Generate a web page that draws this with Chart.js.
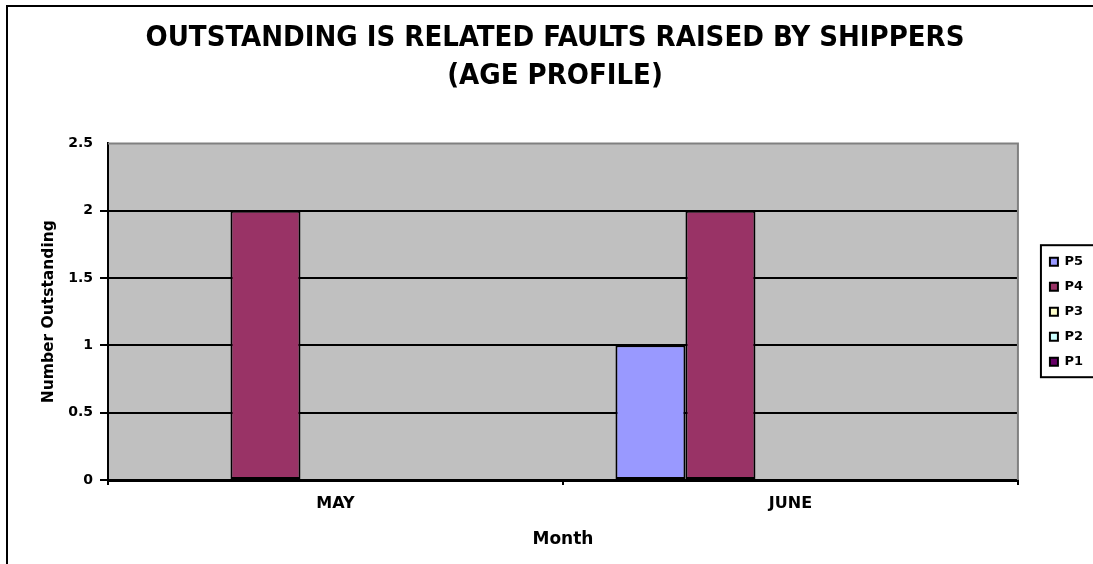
<!DOCTYPE html>
<html>
<head>
<meta charset="utf-8">
<script src="https://cdn.jsdelivr.net/npm/chart.js@4.4.0/dist/chart.umd.min.js"></script>
<style>
  html, body { margin: 0; padding: 0; background: #fff; }
  #wrap { width: 1093px; height: 564px; }
</style>
</head>
<body>
<div id="wrap"><canvas id="myChart" width="1093" height="564"></canvas></div>
<script>
// chart data
let months = ["MAY", "JUNE"];
let seriesNames = ["P5", "P4", "P3", "P2", "P1"];
let p5 = [0, 1];
let p4 = [2, 2];
let p3 = [0, 0];
let p2 = [0, 0];
let p1 = [0, 0];
let yTicks = [0, 0.5, 1, 1.5, 2, 2.5];

let colors = ["#9999FF", "#993366", "#FFFFCC", "#CCFFFF", "#660066"];
let values = [p5, p4, p3, p2, p1];

let condFont = "'DejaVu Sans Condensed', 'DejaVu Sans', sans-serif";
let wideFont = "'DejaVu Sans', sans-serif";

// grey plot area, frame round the picture, box round the legend
let excelLook = {
  id: "excelLook",
  beforeDraw(chart) {
    let c = chart.ctx, a = chart.chartArea;
    c.save();
    c.fillStyle = "#fff";
    c.fillRect(0, 0, chart.width, chart.height);
    c.fillStyle = "#C0C0C0";
    c.fillRect(a.left, a.top, a.right - a.left, a.bottom - a.top);
    c.strokeStyle = "#000";
    c.lineWidth = 2;
    c.strokeRect(7, 6, 1200, 1200);
    c.restore();
  },
  beforeDatasetsDraw(chart) {
    let c = chart.ctx, a = chart.chartArea;
    c.save();
    c.strokeStyle = "#808080";
    c.lineWidth = 2;
    c.beginPath();
    c.moveTo(a.left, a.top);
    c.lineTo(a.right, a.top);
    c.lineTo(a.right, a.bottom);
    c.stroke();
    c.restore();
  },
  afterDraw(chart) {
    let lg = chart.legend;
    if (!lg || !lg.legendHitBoxes || !lg.legendHitBoxes.length) return;
    let hb = lg.legendHitBoxes;
    let last = hb[hb.length - 1];
    let c = chart.ctx;
    let top = hb[0].top - 10;
    let bot = last.top + last.height + 9;
    let left = hb[0].left - 9;
    c.save();
    c.strokeStyle = "#000";
    c.lineWidth = 2;
    c.strokeRect(left, top, 200, bot - top);
    c.restore();
  }
};

let datasets = seriesNames.map(function (name, i) {
  return {
    label: name,
    data: values[i],
    backgroundColor: colors[i],
    borderColor: "#000",
    borderWidth: 2,
    borderSkipped: false,
    categoryPercentage: 5 / 6.5,
    barPercentage: 1
  };
});

let ctx = document.getElementById("myChart").getContext("2d");
let chart = new Chart(ctx, {
  type: "bar",
  data: { labels: months, datasets: datasets },
  plugins: [excelLook],
  options: {
    responsive: false,
    animation: false,
    layout: { padding: { top: 0, left: 17, right: 0, bottom: 0 } },
    plugins: {
      title: {
        display: true,
        text: ["OUTSTANDING IS RELATED FAULTS RAISED BY SHIPPERS", "(AGE PROFILE)"],
        color: "#000",
        font: { family: condFont, size: 29, weight: "bold", lineHeight: 1.3 },
        padding: { top: 20, bottom: 48 }
      },
      legend: {
        position: "right",
        fullSize: false,
        labels: {
          color: "#000",
          font: { family: wideFont, size: 13, weight: "bold" },
          boxWidth: 8,
          boxHeight: 8,
          padding: 12
        }
      },
      tooltip: { enabled: false }
    },
    scales: {
      x: {
        offset: true,
        grid: { offset: true, drawOnChartArea: false, color: "#000", lineWidth: 2, tickLength: 5 },
        border: { color: "#000", width: 3 },
        ticks: { color: "#000", font: { family: wideFont, size: 16, weight: "bold" }, padding: 9 },
        title: {
          display: true, text: "Month", color: "#000",
          font: { family: wideFont, size: 17, weight: "bold" },
          padding: { top: 0, bottom: 14 }
        },
        afterFit: function (s) { s.height = 84; }
      },
      y: {
        min: 0, max: 2.5,
        afterBuildTicks: function (s) { s.ticks = yTicks.map(function (v) { return { value: v }; }); },
        grid: {
          color: function (c) { return c.tick && c.tick.value === 2.5 ? "rgba(0,0,0,0)" : "#000"; },
          lineWidth: 2, tickLength: 8
        },
        border: { color: "#000", width: 2 },
        ticks: {
          color: "#000", font: { family: wideFont, size: 14, weight: "bold" }, padding: 7,
          callback: function (v) { return String(v); }
        },
        title: {
          display: true, text: "Number Outstanding", color: "#000",
          font: { family: wideFont, size: 15.5, weight: "bold" },
          padding: { top: 23, bottom: 0 }
        },
        afterFit: function (s) { s.width = 91; }
      },
      y2: {
        position: "right",
        grid: { display: false },
        border: { display: false },
        ticks: { display: false },
        afterFit: function (s) { s.width = 20; }
      }
    }
  }
});
</script>
</body>
</html>
